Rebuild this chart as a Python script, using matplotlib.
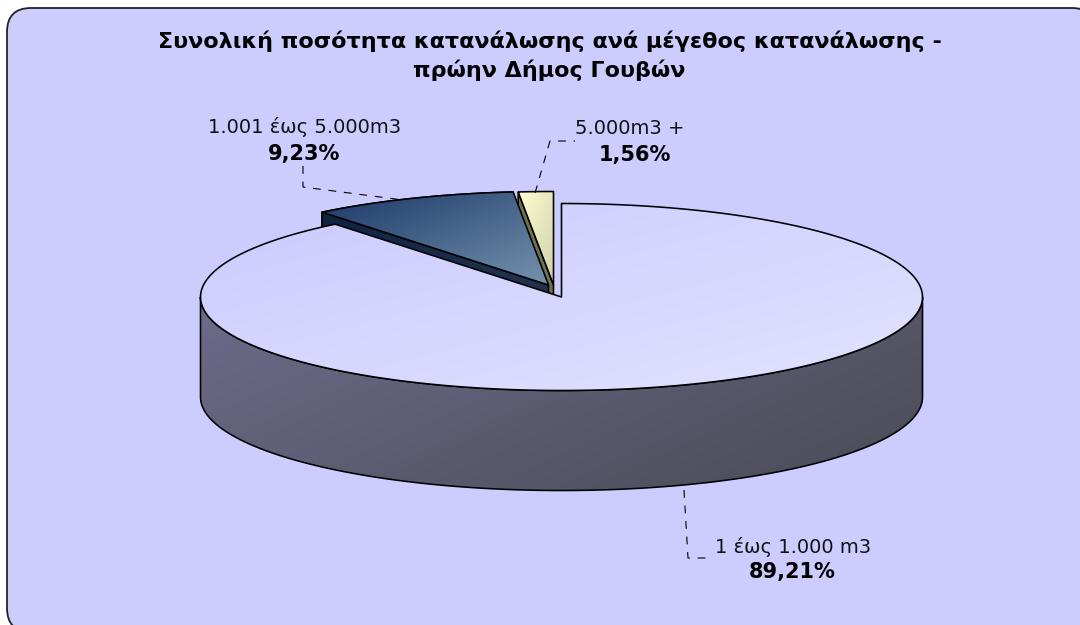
#!/usr/bin/env python3

import numpy as np
import matplotlib
matplotlib.use("Agg")
import matplotlib.pyplot as plt
from matplotlib.patches import FancyBboxPatch, Polygon
from matplotlib.colors import LinearSegmentedColormap

plt.rcParams['font.family'] = ['DejaVu Sans']

title = "Συνολική ποσότητα κατανάλωσης ανά μέγεθος κατανάλωσης -\nπρώην Δήμος Γουβών"
categories = ["1 έως 1.000 m3", "1.001 έως 5.000m3", "5.000m3 +"]
shares = [89.21, 9.23, 1.56]

# pie geometry in pixels
cx, cy, rx, ry, depth = 561.5, 297.0, 361.0, 93.5, 100.0
offsets = [(0, 0), (-13, -12), (-8, -12)]

# name x, name y, percent x, percent y
label_pos = [(793, 547, 792, 572), (304.5, 127, 304, 154), (630, 129, 634.5, 155)]
leaders = [[(684, 490), (688, 558), (711, 558)],
           [(303, 166), (303, 187), (403, 200)],
           [(535, 193), (550, 141), (575, 141)]]


def point(theta, off=(0, 0), drop=0.0):
    # theta in degrees, clockwise from 12 o'clock
    t = np.radians(theta)
    return np.column_stack((cx + off[0] + rx * np.sin(t),
                            cy + off[1] + drop - ry * np.cos(t)))


def sector(a, b, off):
    arc = point(np.linspace(a, b, 200), off)
    return np.vstack(([[cx + off[0], cy + off[1]]], arc))


def side(a, b, off):
    ts = np.linspace(a, b, 200)
    return np.vstack((point(ts, off), point(ts[::-1], off, depth)))


def grad_fill(ax, xy, c0, c1, angle=(1, 1), edge='black', lw=1.15, z=1):
    # linear gradient across the polygon bbox, clipped to the polygon
    x0, y0 = xy.min(axis=0)
    x1, y1 = xy.max(axis=0)
    xx, yy = np.meshgrid(np.linspace(0, 1, 256), np.linspace(0, 1, 256))
    cmap = LinearSegmentedColormap.from_list("g", [c0, c1])
    im = ax.imshow(angle[0] * xx + angle[1] * yy, cmap=cmap, extent=(x0, x1, y1, y0),
                   aspect='auto', zorder=z, interpolation='bilinear')
    poly = Polygon(xy, closed=True, fc='none', ec=edge, lw=lw, zorder=z + 0.1, joinstyle='round')
    ax.add_patch(poly)
    im.set_clip_path(poly)


def main():
    fig = plt.figure(figsize=(10.8, 6.25), dpi=100)
    ax = fig.add_axes([0, 0, 1, 1])

    # the panel runs off the right and bottom of the picture
    panel = FancyBboxPatch((7, 8), 1089, 624, boxstyle="round,pad=0,rounding_size=24",
                           fc='#CCCCFF', ec='#222222', lw=1.3, zorder=0)
    ax.add_patch(panel)

    edges = np.concatenate(([0], np.cumsum(shares))) * 3.6
    a0, a1, a2, a3 = edges

    # yellow slice: cut face first, the blue slice covers most of it
    p = point(np.array([a2]), offsets[2])[0]
    tip = np.array([cx + offsets[2][0], cy + offsets[2][1]])
    face = np.array([p, tip, tip + (0, depth), p + (0, depth)])
    ax.add_patch(Polygon(face, closed=True, fc='#6F6F52', ec='black', lw=1.15, zorder=2))

    # blue slice
    grad_fill(ax, side(a1, a2, offsets[1]), '#07172F', '#1A2A44', z=3)
    p = point(np.array([a1]), offsets[1])[0]
    tip = np.array([cx + offsets[1][0], cy + offsets[1][1]])
    face = np.array([p, tip, tip + (0, depth), p + (0, depth)])
    grad_fill(ax, face, '#0E2244', '#2B3B50', z=3.5)
    grad_fill(ax, sector(a1, a2, offsets[1]), '#1B3768', '#7593AE', z=4)

    # yellow top
    grad_fill(ax, sector(a2, a3, offsets[2]), '#FFFFD0', '#CFCFAC', z=5)

    # big slice goes last, its top hides what is behind it
    grad_fill(ax, side(90, 270, offsets[0]), '#4A4A55', '#6C6C8C', angle=(-1, -0.6), z=6)
    grad_fill(ax, sector(a0, a1, offsets[0]), '#CBCBFE', '#E2E2FF', z=7)

    ax.text(549.5, 55.5, title, ha='center', va='center', fontsize=16, fontweight='bold',
            color='black', linespacing=1.43, zorder=9)

    for i, name in enumerate(categories):
        x, y, px, py = label_pos[i]
        ax.text(x, y, name, ha='center', va='center', fontsize=14, color='#111111', zorder=9)
        pct = "{:.2f}%".format(shares[i]).replace(".", ",")
        ax.text(px, py, pct, ha='center', va='center', fontsize=15, fontweight='bold',
                color='black', zorder=9)
        xs, ys = zip(*leaders[i])
        ax.plot(xs, ys, color='black', lw=0.8, ls=(0, (7, 7)), zorder=8)

    ax.set_xlim(0, 1080)
    ax.set_ylim(625, 0)
    ax.axis('off')
    fig.savefig("out.png", dpi=100, facecolor='white')


if __name__ == '__main__':
    main()
